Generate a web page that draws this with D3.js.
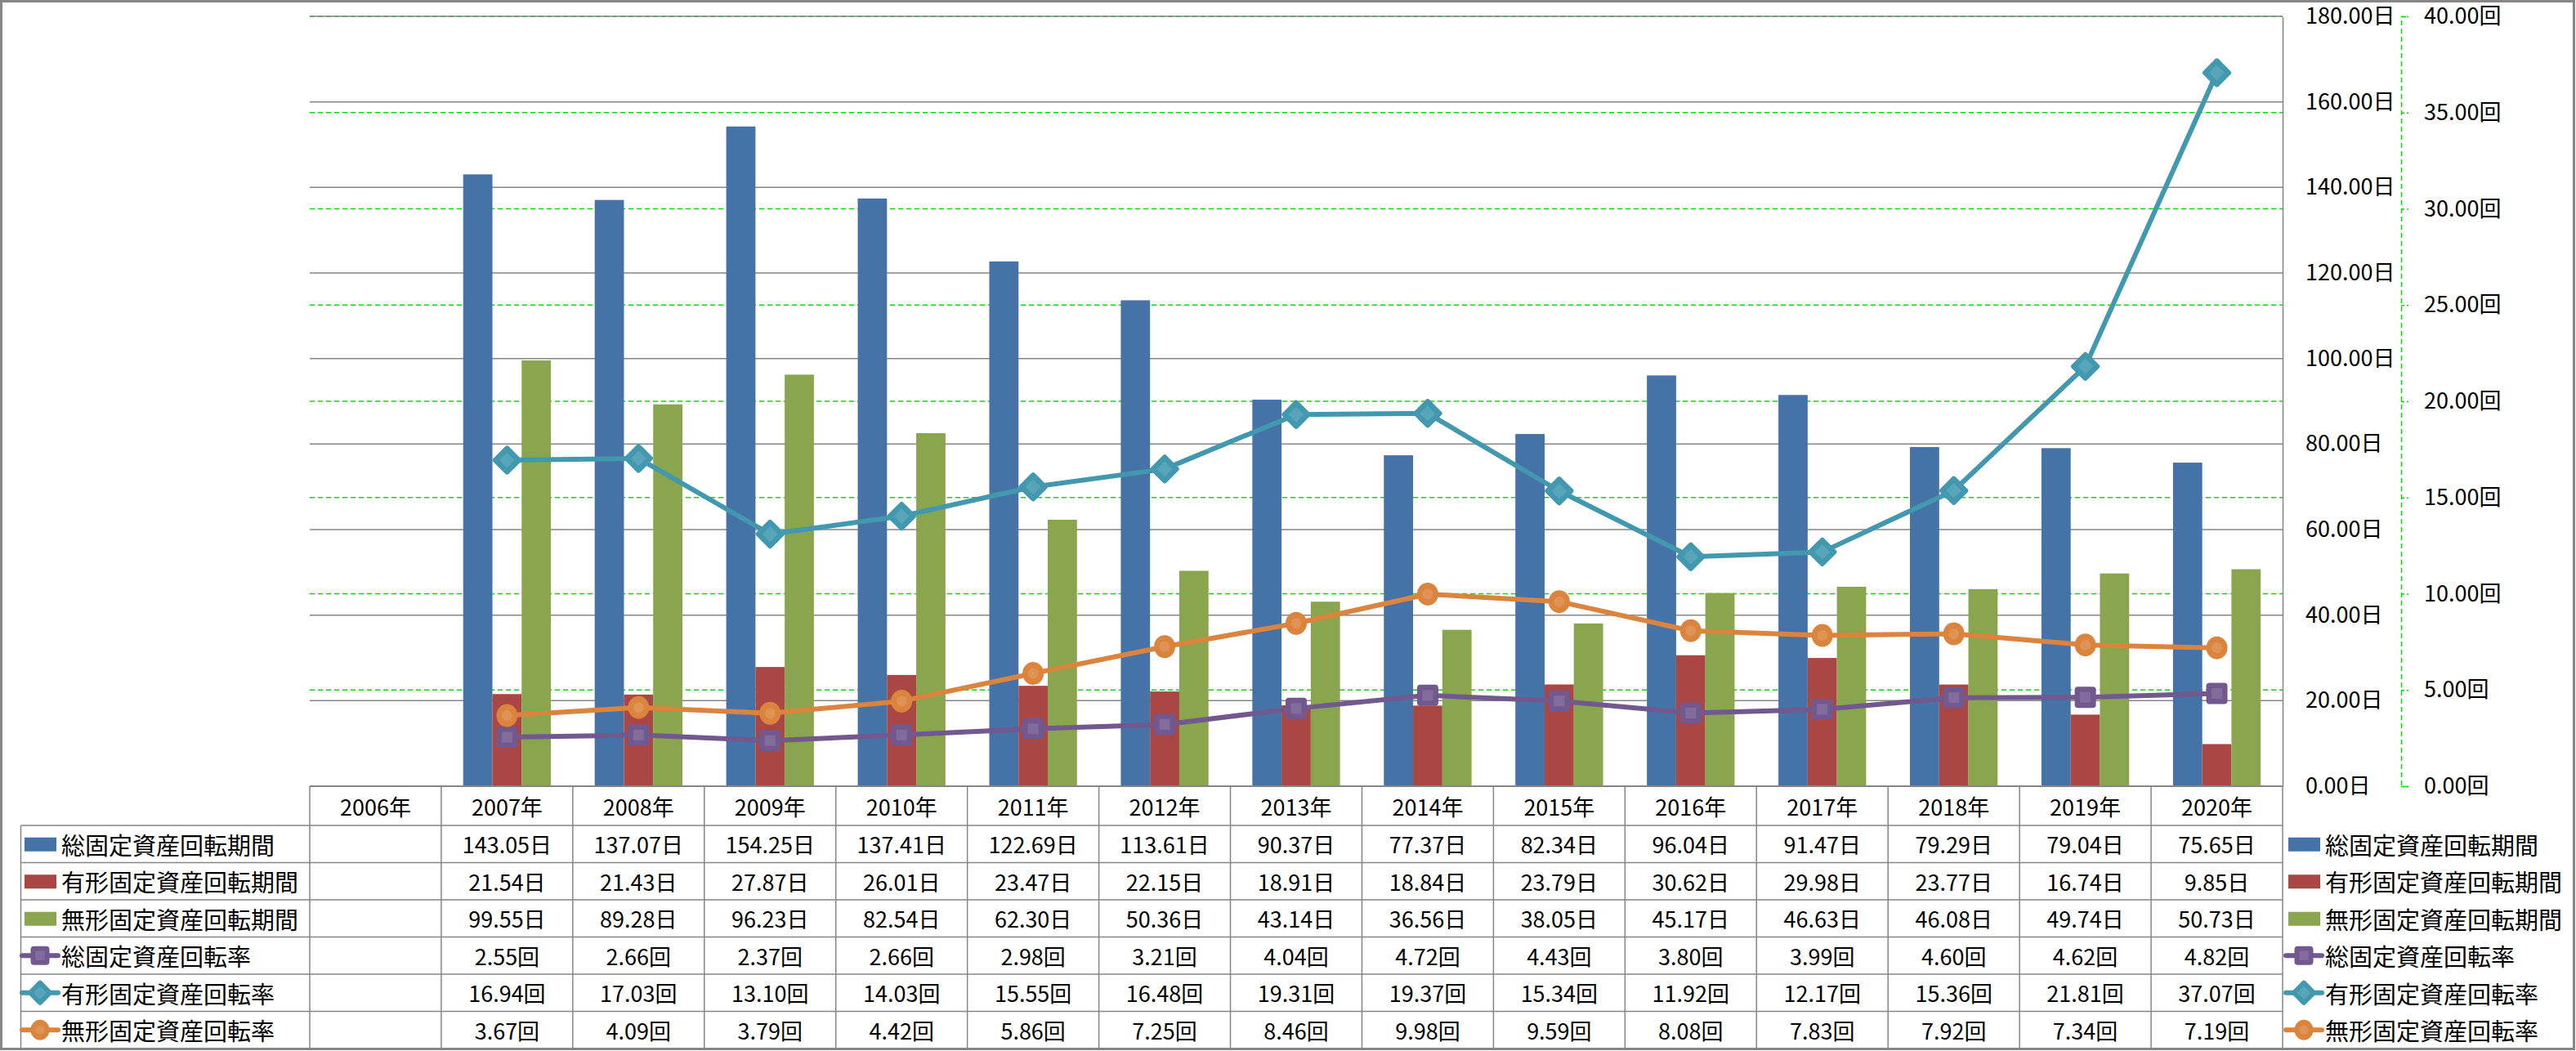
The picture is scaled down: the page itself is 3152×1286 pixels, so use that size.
<!DOCTYPE html>
<html><head><meta charset="utf-8">
<script src="https://cdn.jsdelivr.net/npm/d3@7"></script>
<style>
html,body{margin:0;padding:0;background:#fff;}
svg text{font-family:"Noto Sans CJK JP","Noto Sans",sans-serif;fill:#000;}
</style></head>
<body>
<svg id="c" width="3152" height="1286"></svg>
<script>
const years = ["2006年","2007年","2008年","2009年","2010年","2011年","2012年","2013年","2014年","2015年","2016年","2017年","2018年","2019年","2020年"];
const totalPeriod = [null,143.05,137.07,154.25,137.41,122.69,113.61,90.37,77.37,82.34,96.04,91.47,79.29,79.04,75.65];
const tangiblePeriod = [null,21.54,21.43,27.87,26.01,23.47,22.15,18.91,18.84,23.79,30.62,29.98,23.77,16.74,9.85];
const intangiblePeriod = [null,99.55,89.28,96.23,82.54,62.30,50.36,43.14,36.56,38.05,45.17,46.63,46.08,49.74,50.73];
const totalRate = [null,2.55,2.66,2.37,2.66,2.98,3.21,4.04,4.72,4.43,3.80,3.99,4.60,4.62,4.82];
const tangibleRate = [null,16.94,17.03,13.10,14.03,15.55,16.48,19.31,19.37,15.34,11.92,12.17,15.36,21.81,37.07];
const intangibleRate = [null,3.67,4.09,3.79,4.42,5.86,7.25,8.46,9.98,9.59,8.08,7.83,7.92,7.34,7.19];
const leftTicks = [0,20,40,60,80,100,120,140,160,180];
const rightTicks = [0,5,10,15,20,25,30,35,40];

const barSeries = [
  {name:"総固定資産回転期間", values: totalPeriod, color:"#4572A7"},
  {name:"有形固定資産回転期間", values: tangiblePeriod, color:"#AA4643"},
  {name:"無形固定資産回転期間", values: intangiblePeriod, color:"#89A54E"}
];
const lineSeries = [
  {name:"総固定資産回転率", values: totalRate, color:"#71588F", marker:"square"},
  {name:"有形固定資産回転率", values: tangibleRate, color:"#4198AF", marker:"diamond"},
  {name:"無形固定資産回転率", values: intangibleRate, color:"#DB843D", marker:"circle"}
];

const svg = d3.select("#c");
const L = 379, R = 2793, T = 20, B = 962;
const grey = "#868686";

const x = d3.scaleBand().domain(years).range([L, R]);
const xs = d3.scaleBand().domain(barSeries.map(d=>d.name)).range([0, x.bandwidth()]).paddingInner(0).paddingOuter(0.75);
const yL = d3.scaleLinear().domain([0,180]).range([B, T]);
const yR = d3.scaleLinear().domain([0,40]).range([B, T]);

// secondary gridlines (dashed green)
svg.append("g").selectAll("line").data(rightTicks).join("line")
  .attr("x1", L).attr("x2", R).attr("y1", d=>yR(d)).attr("y2", d=>yR(d))
  .attr("stroke", "#00E000").attr("stroke-width", 1.5).attr("stroke-dasharray", "6,4");
// primary gridlines (solid grey)
svg.append("g").selectAll("line").data(leftTicks).join("line")
  .attr("x1", L).attr("x2", R).attr("y1", d=>yL(d)).attr("y2", d=>yL(d))
  .attr("stroke", grey).attr("stroke-width", 1.5);

// bars
barSeries.forEach(s => {
  svg.append("g").selectAll("rect").data(years.map((y,i)=>({y, v:s.values[i]})).filter(d=>d.v!=null)).join("rect")
    .attr("x", d=>x(d.y)+xs(s.name)).attr("width", xs.bandwidth())
    .attr("y", d=>yL(d.v)).attr("height", d=>B - yL(d.v))
    .attr("fill", s.color);
});

// marker drawing
function drawMarker(g, type, color, size){
  const light = d3.interpolateRgb(color, "#ffffff")(0.12);
  if(type==="square"){
    g.append("rect").attr("x",-size/2).attr("y",-size/2).attr("width",size).attr("height",size).attr("rx",4)
      .attr("fill",color);
    g.append("rect").attr("x",-size/4).attr("y",-size/4).attr("width",size/2).attr("height",size/2)
      .attr("fill",light);
  } else if(type==="diamond"){
    const s = size*0.72;
    g.append("rect").attr("x",-s/2).attr("y",-s/2).attr("width",s).attr("height",s).attr("rx",3)
      .attr("transform","rotate(45)").attr("fill",color);
    g.append("rect").attr("x",-s/4).attr("y",-s/4).attr("width",s/2).attr("height",s/2)
      .attr("transform","rotate(45)").attr("fill",light);
  } else {
    g.append("ellipse").attr("rx",size/2).attr("ry",size/2+1).attr("fill",color);
    g.append("circle").attr("r",size/4).attr("fill",light);
  }
}

// lines
lineSeries.forEach(s => {
  const pts = years.map((y,i)=>({y, v:s.values[i]})).filter(d=>d.v!=null);
  const line = d3.line().x(d=>x(d.y)+x.bandwidth()/2).y(d=>yR(d.v));
  svg.append("path").datum(pts).attr("d", line).attr("fill","none")
    .attr("stroke", s.color).attr("stroke-width", 6).attr("stroke-linejoin","round").attr("stroke-linecap","round");
  pts.forEach(d => {
    const g = svg.append("g").attr("transform", `translate(${x(d.y)+x.bandwidth()/2},${yR(d.v)})`);
    drawMarker(g, s.marker, s.color, s.marker==="diamond"?37:26);
  });
});

// primary value axis (right of plot)
const axL = d3.axisRight(yL).tickValues(leftTicks).tickSize(0).tickPadding(28).tickFormat(d=>d.toFixed(2)+"日");
const gL = svg.append("g").attr("transform", `translate(${R},0)`).call(axL);
gL.select(".domain").attr("stroke", grey).attr("stroke-width", 1.5);
gL.selectAll("text").attr("font-size", 27).attr("font-family", '"Noto Sans CJK JP",sans-serif').attr("fill","#000");

// secondary value axis
const axR = d3.axisRight(yR).tickValues(rightTicks).tickSize(9).tickSizeOuter(9).tickPadding(19).tickFormat(d=>d.toFixed(2)+"回");
const gR = svg.append("g").attr("transform", `translate(2938,0)`).call(axR);
gR.select(".domain").attr("stroke", "#00E000").attr("stroke-width", 1.5).attr("stroke-dasharray","6,4");
gR.selectAll(".tick line").attr("stroke", "#00E000").attr("stroke-width", 1.5).attr("stroke-dasharray","4,3");
gR.selectAll("text").attr("font-size", 27).attr("font-family", '"Noto Sans CJK JP",sans-serif').attr("fill","#000");

// data table
const TL = 25.5, headerBottom = 1010, tableBottom = 1283;
const allSeries = [...barSeries.map(s=>({...s, type:"bar", unit:"日"})), ...lineSeries.map(s=>({...s, type:"line", unit:"回"}))];
const rowY = d3.scaleBand().domain(allSeries.map(s=>s.name)).range([headerBottom, tableBottom]);
const tg = svg.append("g");
// horizontal lines
tg.append("line").attr("x1",L).attr("x2",R).attr("y1",B).attr("y2",B).attr("stroke",grey).attr("stroke-width",2);
allSeries.forEach(s => {
  tg.append("line").attr("x1",TL).attr("x2",R).attr("y1",rowY(s.name)).attr("y2",rowY(s.name)).attr("stroke",grey).attr("stroke-width",1.5);
});
tg.append("line").attr("x1",TL).attr("x2",R).attr("y1",tableBottom).attr("y2",tableBottom).attr("stroke",grey).attr("stroke-width",1.5);
// vertical lines
years.forEach(y => {
  tg.append("line").attr("x1",x(y)).attr("x2",x(y)).attr("y1",B).attr("y2",tableBottom).attr("stroke",grey).attr("stroke-width",1.5);
});
tg.append("line").attr("x1",R).attr("x2",R).attr("y1",B).attr("y2",tableBottom).attr("stroke",grey).attr("stroke-width",1.5);
tg.append("line").attr("x1",TL).attr("x2",TL).attr("y1",headerBottom).attr("y2",tableBottom).attr("stroke",grey).attr("stroke-width",1.5);

// header texts
tg.selectAll("text.yr").data(years).join("text").attr("class","yr")
  .attr("x", d=>x(d)+x.bandwidth()/2).attr("y", (B+headerBottom)/2)
  .attr("text-anchor","middle").attr("dominant-baseline","central").attr("font-size",27).text(d=>d);

// values
allSeries.forEach(s => {
  const cy = rowY(s.name) + rowY.bandwidth()/2;
  years.forEach((y,i) => {
    const v = s.values[i];
    if(v==null) return;
    tg.append("text").attr("x", x(y)+x.bandwidth()/2).attr("y", cy)
      .attr("text-anchor","middle").attr("dominant-baseline","central").attr("font-size",27)
      .text(v.toFixed(2)+s.unit);
  });
});

// legend key helper
function legendKey(g, s, x0, cy){
  if(s.type==="bar"){
    g.append("rect").attr("x",x0+3).attr("y",cy-8).attr("width",39).attr("height",17).attr("fill",s.color);
  } else {
    g.append("line").attr("x1",x0).attr("x2",x0+44).attr("y1",cy).attr("y2",cy)
      .attr("stroke",s.color).attr("stroke-width",6).attr("stroke-linecap","round");
    const m = g.append("g").attr("transform",`translate(${x0+22},${cy})`);
    drawMarker(m, s.marker, s.color, s.marker==="diamond"?32:23);
  }
}
// row labels in table + right legend
allSeries.forEach(s => {
  const cy = rowY(s.name) + rowY.bandwidth()/2;
  legendKey(tg, s, 27, cy);
  tg.append("text").attr("x", 75).attr("y", cy).attr("dominant-baseline","central").attr("font-size",29).text(s.name);
  legendKey(tg, s, 2797, cy);
  tg.append("text").attr("x", 2845).attr("y", cy).attr("dominant-baseline","central").attr("font-size",29).text(s.name);
});

// outer border
svg.append("rect").attr("x",1.5).attr("y",1.5).attr("width",3148).attr("height",1282)
  .attr("fill","none").attr("stroke",grey).attr("stroke-width",3);
</script>
</body></html>
